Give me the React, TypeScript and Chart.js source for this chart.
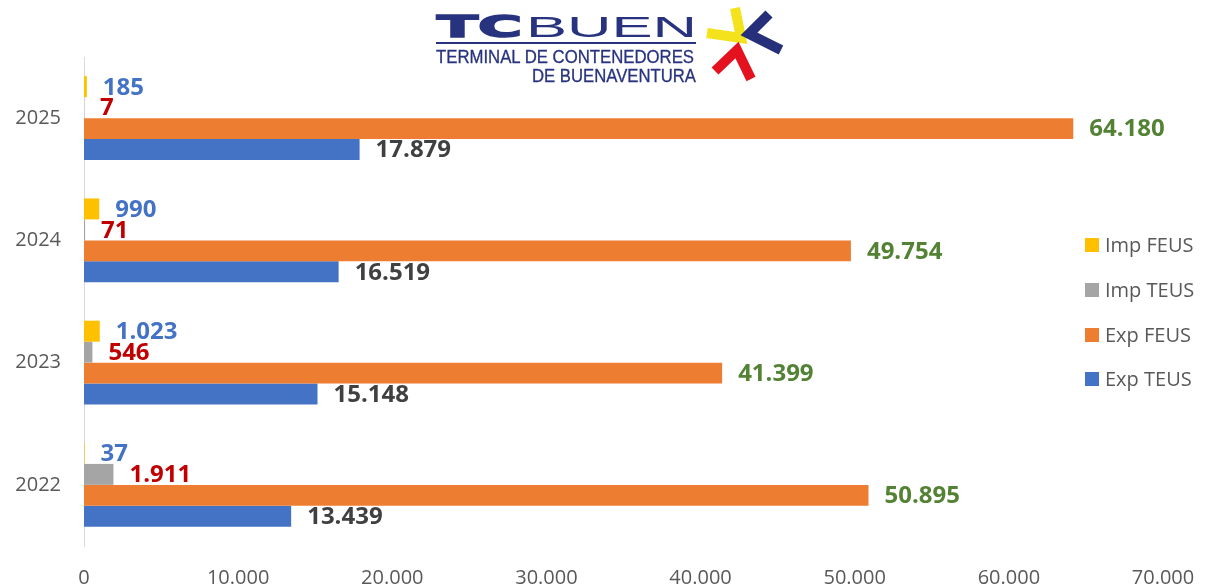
import React, { useEffect, useRef } from 'react';
import { Chart, registerables } from 'chart.js';

Chart.register(...registerables);

const categories = ['2025', '2024', '2023', '2022'];
const impFeus = [185, 990, 1023, 37];
const impTeus = [7, 71, 546, 1911];
const expFeus = [64180, 49754, 41399, 50895];
const expTeus = [17879, 16519, 15148, 13439];
const seriesNames = ['Imp FEUS', 'Imp TEUS', 'Exp FEUS', 'Exp TEUS'];
const barColors = ['#FFC000', '#A5A5A5', '#ED7D31', '#4472C4'];
const labelColors = ['#4472C4', '#C00000', '#548235', '#404040'];
const xMax = 70000;
const xStep = 10000;

const fmt = (v: number) => String(Math.round(v)).replace(/\B(?=(\d{3})+(?!\d))/g, '.');

const valueLabels = {
  id: 'valueLabels',
  afterDatasetsDraw(chart: any) {
    const ctx = chart.ctx;
    ctx.save();
    ctx.font = 'bold 24px "Open Sans"';
    ctx.textAlign = 'left';
    ctx.textBaseline = 'middle';
    chart.data.datasets.forEach((ds: any, di: number) => {
      const meta = chart.getDatasetMeta(di);
      ctx.fillStyle = labelColors[di];
      meta.data.forEach((el: any, i: number) => {
        ctx.fillText(fmt(ds.data[i]), el.x + 16, el.y + 1);
      });
    });
    ctx.restore();
  },
};

function Logo() {
  const navy = '#28337F';
  return (
    <svg width={1205} height={90} style={{ position: 'absolute', left: 0, top: 0 }}>
      <text x={437} y={37} fontFamily="DejaVu Sans" fontWeight="bold" fontSize={30} fill={navy}
        stroke={navy} strokeWidth={1.6} textLength={85} lengthAdjust="spacingAndGlyphs">TC</text>
      <text x={526} y={37} fontFamily="Liberation Sans" fontSize={30} fill={navy}
        textLength={171} lengthAdjust="spacingAndGlyphs">BUEN</text>
      <rect x={436} y={42} width={260} height={2} fill={navy} />
      <text x={436} y={63} fontFamily="Liberation Sans" fontSize={18} fill={navy}
        stroke={navy} strokeWidth={0.3} textLength={258} lengthAdjust="spacingAndGlyphs">TERMINAL DE CONTENEDORES</text>
      <text x={532} y={82} fontFamily="Liberation Sans" fontSize={18} fill={navy}
        stroke={navy} strokeWidth={0.3} textLength={164} lengthAdjust="spacingAndGlyphs">DE BUENAVENTURA</text>
      <polyline points="707,33 741,38 735,8" fill="none" stroke="#F4E21C" strokeWidth={10} strokeLinejoin="miter" />
      <polyline points="769,14 749,34 781,50" fill="none" stroke="#252F7A" strokeWidth={10} strokeLinejoin="miter" />
      <polyline points="715,71 737,50 751,79" fill="none" stroke="#E3121E" strokeWidth={10} strokeLinejoin="miter" />
    </svg>
  );
}

function Legend() {
  const tops = [245, 290, 334.5, 379];
  return (
    <div style={{ position: 'absolute', left: 0, top: 0 }}>
      {seriesNames.map((n, i) => (
        <div key={n} style={{ position: 'absolute', left: 1085, top: tops[i] - 14, height: 28, display: 'flex', alignItems: 'center', whiteSpace: 'nowrap' }}>
          <div style={{ width: 14, height: 14, background: barColors[i], marginRight: 6 }} />
          <span style={{ fontFamily: '"Open Sans"', fontSize: 20, color: '#595959', lineHeight: '28px' }}>{n}</span>
        </div>
      ))}
    </div>
  );
}

export default function App() {
  const ref = useRef<HTMLCanvasElement | null>(null);
  useEffect(() => {
    if (!ref.current) return;
    const series = [impFeus, impTeus, expFeus, expTeus];
    const chart = new Chart(ref.current, {
      type: 'bar',
      data: {
        labels: categories,
        datasets: series.map((d, i) => ({
          label: seriesNames[i],
          data: d,
          backgroundColor: barColors[i],
          borderWidth: 0,
          barPercentage: 1,
          categoryPercentage: 0.686,
        })),
      },
      options: {
        indexAxis: 'y',
        responsive: false,
        animation: false,
        devicePixelRatio: 1,
        layout: { padding: { top: 57, right: 42, left: 0, bottom: 0 } },
        plugins: { legend: { display: false }, tooltip: { enabled: false } },
        scales: {
          x: {
            min: 0,
            max: xMax,
            grid: { display: false, drawTicks: false },
            border: { display: false },
            ticks: {
              stepSize: xStep,
              padding: 20,
              color: '#595959',
              font: { family: '"Open Sans"', size: 20 },
              callback: (v: any) => fmt(Number(v)),
              maxRotation: 0,
            },
            afterFit: (s: any) => { s.height = 42; s.paddingLeft = 0; s.paddingRight = 0; },
          },
          y: {
            grid: { display: false, drawTicks: false },
            border: { display: true, color: '#D9D9D9', width: 1 },
            ticks: {
              padding: 23,
              color: '#595959',
              font: { family: '"Open Sans"', size: 20 },
            },
            afterFit: (s: any) => { s.width = 84; },
          },
        },
      },
      plugins: [valueLabels],
    });
    return () => chart.destroy();
  }, []);
  return (
    <div style={{ position: 'absolute', left: 0, top: 0, width: 1205, height: 588, background: '#fff' }}>
      <canvas ref={ref} width={1205} height={588} style={{ position: 'absolute', left: 0, top: 0 }} />
      <Logo />
      <Legend />
    </div>
  );
}
